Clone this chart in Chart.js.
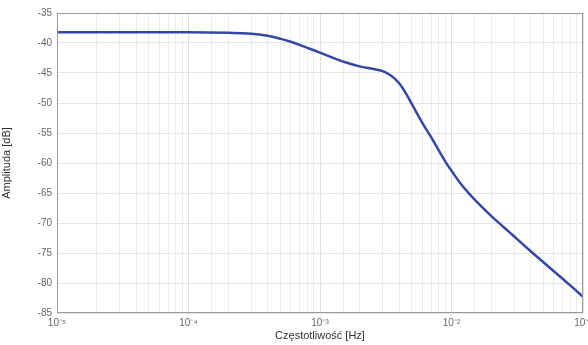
<!DOCTYPE html>
<html>
<head>
<meta charset="utf-8">
<script src="https://cdn.jsdelivr.net/npm/chart.js@4"></script>
<style>
  html, body { margin: 0; padding: 0; background: #fff; }
  #wrap { width: 588px; height: 345px; }
</style>
</head>
<body>
<div id="wrap"><canvas id="ampChart"></canvas></div>
<script>
// frequency [Hz] and amplitude [dB]
const freqs = [1e-5, 3e-5, 1e-4, 2e-4, 3e-4, 4e-4, 5e-4, 6e-4, 8e-4, 1e-3, 1.3e-3, 1.6e-3, 2e-3, 2.5e-3,
               3e-3, 3.5e-3, 4e-3, 4.5e-3, 5e-3, 6e-3, 7e-3, 8e-3, 9e-3, 1e-2, 1.2e-2, 1.5e-2, 2e-2, 2.5e-2,
               3e-2, 4e-2, 5e-2, 6e-2, 7e-2, 8e-2, 1e-1];
const amplitude = [-38.2, -38.2, -38.2, -38.3, -38.45, -38.8, -39.3, -39.8, -40.8, -41.6, -42.6, -43.3, -43.9, -44.3,
                   -44.7, -45.5, -46.7, -48.4, -50.2, -53.3, -55.7, -57.9, -59.8, -61.3, -63.7, -66.1, -68.8, -70.7,
                   -72.25, -74.7, -76.55, -78.05, -79.3, -80.4, -82.3];
const yTicks = [-85, -80, -75, -70, -65, -60, -55, -50, -45, -40, -35];
const decadeLabels = { '-5': '10\u207B\u2075', '-4': '10\u207B\u2074', '-3': '10\u207B\u00B3', '-2': '10\u207B\u00B2', '-1': '10\u207B\u00B9' };

const points = freqs.map((f, i) => ({ x: f, y: amplitude[i] }));

// frame around the plot area
const framePlugin = {
    id: 'frame',
    afterDraw(chart) {
        const { ctx, chartArea: a } = chart;
        ctx.save();
        ctx.strokeStyle = '#9a9a9a';
        ctx.lineWidth = 1;
        ctx.strokeRect(a.left + 0.5, a.top + 0.5, a.right - a.left - 1, a.bottom - a.top - 1);
        ctx.restore();
    }
};

new Chart(document.getElementById('ampChart'), {
    type: 'line',
    data: {
        datasets: [{
            data: points,
            borderColor: '#3448a8',
            borderWidth: 2.5,
            pointRadius: 0,
            fill: false,
            tension: 0.4
        }]
    },
    options: {
        responsive: true,
        maintainAspectRatio: false,
        animation: false,
        layout: { padding: { top: 13, right: 5, left: 0, bottom: 0 } },
        plugins: {
            legend: { display: false },
            tooltip: { enabled: false }
        },
        scales: {
            x: {
                type: 'logarithmic',
                min: 1e-5,
                max: 1e-1,
                border: { display: false },
                grid: {
                    color: (c) => (c.tick && c.tick.major) ? '#e0e0e0' : '#ececec',
                    drawTicks: false
                },
                ticks: {
                    autoSkip: false,
                    maxRotation: 0,
                    padding: 4,
                    color: '#666',
                    font: { family: 'Liberation Sans, Arial', size: 10 },
                    callback: function(value) {
                        const e = Math.log10(value);
                        const r = Math.round(e);
                        if (Math.abs(e - r) < 1e-6 && decadeLabels[r]) return decadeLabels[r];
                        return '';
                    }
                },
                title: {
                    display: true,
                    text: 'Częstotliwość [Hz]',
                    color: '#333',
                    padding: { top: 0, bottom: 2 },
                    font: { family: 'Liberation Sans, Arial', size: 11 }
                },
                afterFit: function(scale) {
                    scale.height = 32;
                    scale.paddingLeft = 0;
                    scale.paddingRight = 0;
                }
            },
            y: {
                min: -85,
                max: -35,
                border: { display: false },
                afterBuildTicks: function(scale) {
                    scale.ticks = yTicks.map(v => ({ value: v }));
                },
                grid: { color: '#e6e6e6', drawTicks: false },
                ticks: {
                    padding: 5,
                    color: '#666',
                    font: { family: 'Liberation Sans, Arial', size: 10 }
                },
                title: {
                    display: true,
                    text: 'Amplituda [dB]',
                    color: '#333',
                    padding: { top: 0, bottom: 8 },
                    font: { family: 'Liberation Sans, Arial', size: 11 }
                },
                afterFit: function(scale) {
                    scale.width = 57;
                    scale.paddingTop = 0;
                    scale.paddingBottom = 0;
                }
            }
        }
    },
    plugins: [framePlugin]
});
</script>
</body>
</html>
